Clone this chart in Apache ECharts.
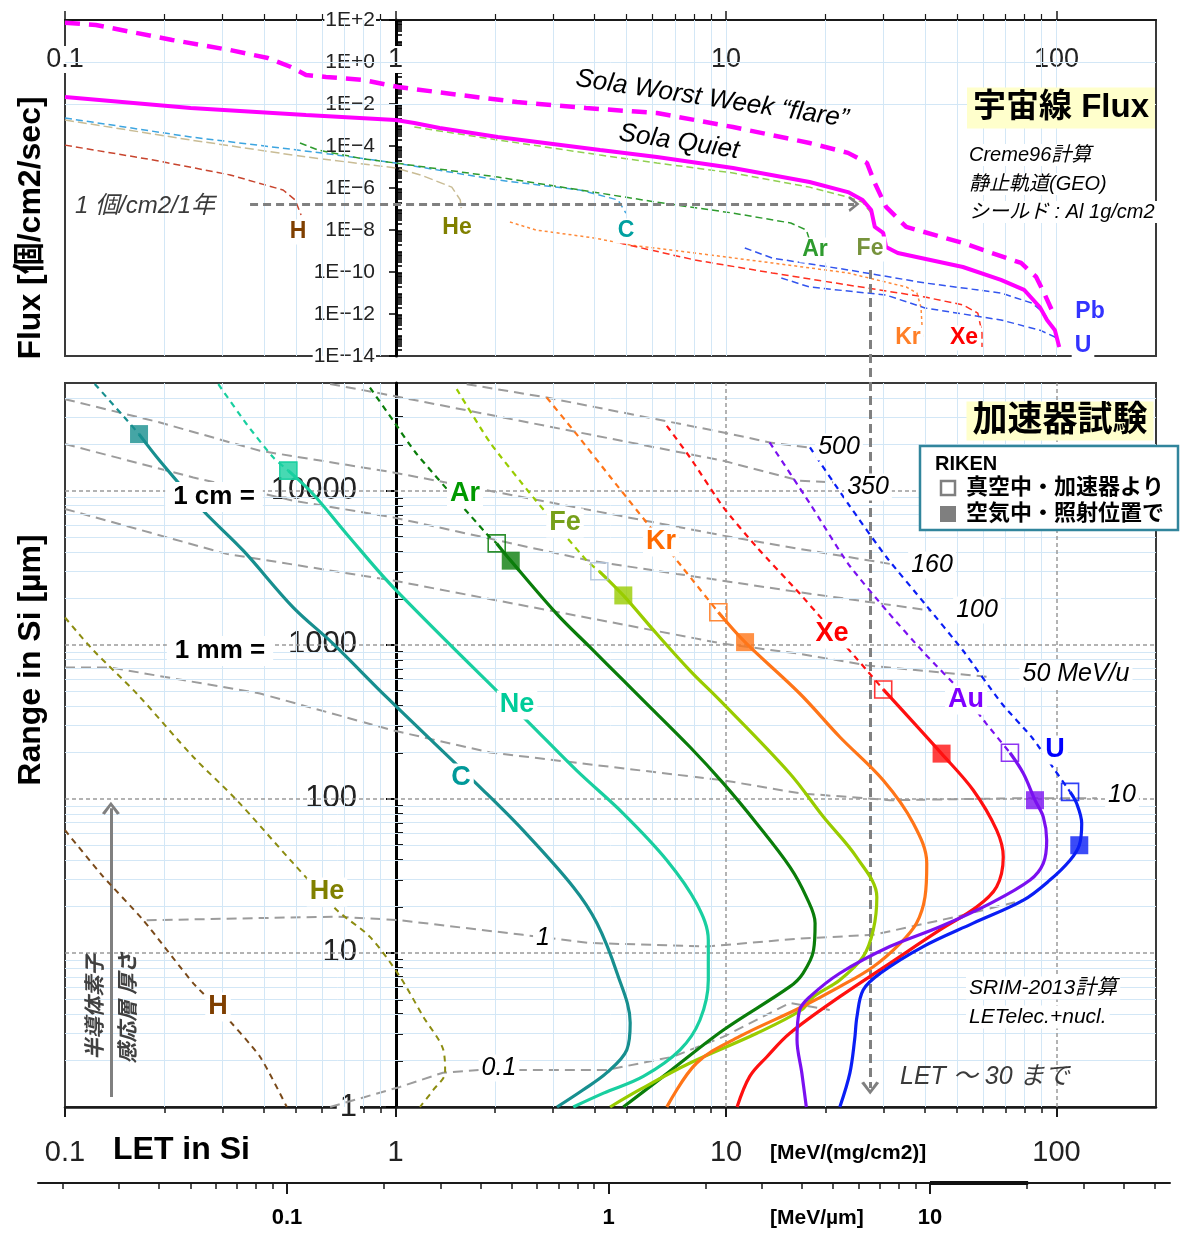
<!DOCTYPE html>
<html><head><meta charset="utf-8">
<script src="https://cdn.jsdelivr.net/npm/echarts@6/dist/echarts.min.js"></script>
<style>html,body{margin:0;padding:0;background:#fff}#c{width:1181px;height:1235px}</style>
</head><body><div id="c"></div>
<script>
// ---------------- axis ranges & tick labels ----------------
const LET_MIN = 0.1, LET_MAX = 200;
const FLUX_MIN = 1e-14, FLUX_MAX = 100;
const RANGE_MIN = 1, RANGE_MAX = 50000;
const UM_MIN = 0.0168, UM_MAX = 55.8;
const letTickLabels = [0.1, 1, 10, 100];
const fluxTickLabels = [1e2, 1, 1e-2, 1e-4, 1e-6, 1e-8, 1e-10, 1e-12, 1e-14];
const rangeTickLabels = [1, 10, 100, 1000, 10000];
const umTickLabels = [0.1, 1, 10];
const umHighlight = [10, 20.2];

// ---------------- top panel: flux vs LET ----------------
const fluxFlare = [[0.1,74],[0.124,57.8],[0.211,11.2],[0.316,3.7],[0.411,1.55],[0.483,0.578],[0.536,0.24],[0.616,0.193],[0.803,0.139],[1.02,0.064],[1.57,0.0268],[2.33,0.0124],[3.77,0.00645],[6.18,0.0037],[10.5,8.0e-4],[17.9,1.39e-4],[23.4,4.7e-5],[26.7,1.55e-5],[28.2,1.7e-6],[30.5,1.26e-7],[35.1,1.4e-8],[52.1,2.4e-9],[78.1,2.7e-10],[86.8,5.8e-11],[91.7,1e-11],[98.9,7.2e-13]];
const fluxQuiet = [[0.1,0.0215],[0.24,0.00645],[0.536,0.003],[1.0,0.00173],[1.14,0.00124],[1.36,7.2e-4],[2.04,2.7e-4],[4.16,6.4e-5],[6.18,3.0e-5],[10.5,9e-6],[17.9,1.93e-6],[23.4,6.4e-7],[25.9,2.7e-7],[27.5,8.9e-8],[28.2,1.39e-8],[29.9,7.2e-9],[30.5,1.55e-9],[33.1,8e-10],[52.1,1.73e-10],[67.9,4.2e-11],[79.8,1.4e-11],[89.1,2.1e-12],[93.6,5.2e-13],[98.9,1.7e-13],[101.9,2.7e-14]];
const fluxH  = [[0.1,1.1e-4],[0.185,2.15e-5],[0.316,4.2e-6],[0.457,8e-7],[0.497,2.7e-7],[0.518,5.2e-8]];
const fluxHe = [[0.1,1.73e-3],[0.24,1.93e-4],[0.536,3e-5],[1.0,9e-6],[1.19,4.2e-6],[1.48,1.1e-6],[1.57,2.7e-7],[1.58,1.1e-7]];
const fluxC  = [[0.1,2.15e-3],[0.24,2.7e-4],[0.6,4.6e-5],[1.0,1.55e-5],[2.04,2.4e-6],[3.61,8e-7],[4.71,2.7e-7],[4.98,6.4e-8]];
const fluxAr = [[0.514,1.39e-4],[0.583,6.4e-5],[0.803,2.4e-5],[1.0,1.55e-5],[2.04,3.3e-6],[4.16,5.7e-7],[6.18,2.1e-7],[10.5,6.4e-8],[15.7,2.15e-8],[17.5,1e-8],[17.9,3.3e-9]];
const fluxFe = [[1.14,8e-4],[2.04,1.93e-4],[4.16,3.7e-5],[6.18,1.55e-5],[10.5,5.2e-6],[17.9,1.1e-6],[23.4,3.7e-7],[25.9,2.1e-7],[27.5,6.4e-8],[28.2,1.26e-8]];
const fluxKr = [[2.22,2.4e-8],[2.66,1e-8],[3.98,4.2e-9],[5.13,1.93e-9],[8.06,8e-10],[13.8,2.7e-10],[23.4,9e-11],[35.1,1.93e-11],[37.8,1e-11],[38.9,2.1e-12],[39.4,5.8e-14]];
const fluxXe = [[4.77,2.4e-9],[8.06,3.7e-10],[13.8,9e-11],[23.4,2.4e-11],[40,6.4e-12],[52.1,2.7e-12],[57.8,1.1e-12],[59.5,1.26e-13],[59.5,2.7e-14]];
const fluxPb = [[11.4,1.4e-9],[13.8,4.6e-10],[23.4,1.26e-10],[40,3e-11],[67.9,1e-11],[84.3,3.3e-12],[91.7,1.1e-12],[96,3e-13]];
const fluxU  = [[14.7,5.2e-11],[17.9,1.93e-11],[30.5,8e-12],[40,1.93e-12],[67.9,5.2e-13],[89.1,1.7e-13],[98.9,8e-14],[101.9,2.7e-14]];
const fluxOnePerYear = 1.73e-7;
const arrowOnePerYearLET = [0.363, 24.4];

// ---------------- bottom panel: range in Si vs LET ----------------
const rangeH  = [[0.1,62.6],[0.1306,31.2],[0.1726,16.3],[0.2445,6.35],[0.294,4.26],[0.389,2.12],[0.469,1.0]];
const rangeHe = [[0.1,1503],[0.122,918],[0.165,481],[0.2445,187],[0.331,98],[0.491,38.1],[0.664,19.0],[0.837,12.7],[1.032,7.0],[1.213,3.86],[1.395,2.35],[1.413,1.66],[1.301,1.29],[1.186,1.0]];
const rangeC_hi  = [[0.123,49300],[0.1484,31400],[0.1675,23300]];
const rangeC_lo  = [[0.1675,23300],[0.1938,15600],[0.262,7410],[0.3464,4080],[0.49,1750],[0.647,1018],[0.94,457],[1.84,114],[2.43,62.6],[3.45,26.8],[4.07,15.6],[4.68,7.41],[5.13,3.52],[5.01,2.35],[4.36,1.67],[3.69,1.29],[3.08,1.0]];
const rangeNe_hi = [[0.291,49150],[0.3547,27000],[0.427,16400],[0.4739,13490]];
const rangeNe_lo = [[0.4739,13490],[0.5628,9520],[0.7115,5240],[0.9847,2360],[2.55,308],[3.53,153],[4.89,80.3],[6.62,40],[8.15,20.9],[8.84,12.1],[8.84,6.67],[8.34,3.67],[7.26,2.35],[5.62,1.58],[4.26,1.23],[3.45,1.0]];
const rangeAr_hi = [[0.837,46700],[0.985,28400],[1.159,17300],[1.888,5240],[2.024,4550]];
const rangeAr_lo = [[2.024,4550],[2.232,3515],[3.074,1588],[3.877,965],[4.89,587],[5.62,436],[7.78,217],[9.82,126],[12.4,69],[15.6,36.2],[17.5,23.1],[18.6,15.6],[18.4,10.4],[17.1,7.38],[15.6,6.04],[9.82,3.16],[6.46,1.58],[4.89,1.0]];
const rangeFe_hi = [[1.532,45600],[1.932,20560],[2.612,9050],[3.79,3515],[4.137,2998]];
const rangeFe_lo = [[4.137,2998],[4.89,2090],[6.17,1178],[7.78,680],[9.59,435],[15.6,146],[19.7,76.4],[24.8,42],[28.6,23.1],[27.9,14.1],[26.0,9.45],[22.1,6.67],[18.4,5.2],[16.9,4.26],[12.4,3.01],[7.78,1.93],[5.5,1.3],[4.46,1.0]];
const rangeKr_hi = [[2.867,40240],[3.53,23270],[4.46,12320],[7.43,3123],[9.48,1625]];
const rangeKr_lo = [[9.48,1625],[11.42,1040],[16.74,481],[22.1,252],[29.9,132],[36.9,69.2],[40.5,38.1],[40.0,23.1],[37.7,15.6],[33.6,11.5],[27.9,8.14],[22.1,6.04],[16.7,4.39],[11.0,2.87],[8.15,1.93],[6.62,1.0]];
const rangeXe_hi = [[6.62,26380],[7.78,16440],[9.82,7800],[12.4,4290],[16.74,2140],[19.7,1437],[26.7,681],[29.9,513]];
const rangeXe_lo = [[29.9,513],[44.9,196.6],[56.0,113.7],[65.9,62.6],[69.0,42],[65.9,26.9],[57.4,19.9],[44.4,14.1],[31.3,8.56],[22.1,5.2],[15.6,3.01],[13.3,2.12],[11.8,1.58],[10.8,1.0]];
const rangeAu_hi = [[13.55,20560],[17.95,8240],[23.4,3366],[30.6,1669],[39.9,878],[52.1,483],[61.2,309],[72.3,199]];
const rangeAu_lo = [[72.3,199],[79.4,146],[86.1,98],[91.2,76.4],[93.4,53.9],[91.2,38.1],[83.2,29.7],[62.9,20.9],[44.4,14.8],[31.3,11.0],[22.1,7.38],[17.95,5.2],[16.7,4.26],[16.4,2.73],[16.96,1.66],[17.5,1.0]];
const rangeU_hi  = [[17.95,19080],[23.4,8240],[30.6,3700],[39.9,1854],[52.1,918],[68.2,417],[84.3,250],[99.0,153],[109.9,111]];
const rangeU_lo  = [[109.9,111],[115.1,93.2],[119.2,69.2],[117.2,50],[109.9,40],[95.5,29.7],[79.4,22],[56,15.6],[39.5,11],[29.3,7.38],[26,5.75],[24.9,3.85],[24.5,2.73],[23.7,1.66],[22.1,1.0]];

// RIKEN beam points: open = in vacuum (accelerator), filled = in air (irradiation position)
const rikenVacuum = { Ne:[0.4739,13490], Ar:[2.024,4550], Fe:[4.137,2998], Kr:[9.48,1625], Xe:[29.9,513], Au:[72.3,199], U:[109.9,111] };
const rikenAir    = { C:[0.1675,23300], Ne:[0.4739,13490], Ar:[2.232,3515], Fe:[4.89,2090], Kr:[11.42,1040], Xe:[44.9,196.6], Au:[86.1,98], U:[117.2,50] };

// iso-energy (MeV/u) lines
const iso500 = [[1.642,49140],[2.867,40240],[9.82,23880],[13.58,20560],[17.95,19000]];
const iso350 = [[0.634,49300],[0.983,41280],[9.82,15630],[16.7,11610],[21.1,11320]];
const iso160 = [[0.1,39270],[0.1938,27710],[0.389,18150],[0.985,13140],[9.82,5110],[16.7,4190],[31.3,3350]];
const iso100 = [[0.1,20080],[0.2445,12190],[0.491,8610],[0.985,6710],[3.877,3515],[7.1,2884],[16.7,2193],[41.4,1668]];
const iso50  = [[0.1,7610],[0.308,3890],[0.985,2610],[9.82,1015],[16.7,874],[26.7,735],[62.9,617]];
const iso10  = [[0.1,713],[0.1368,713],[0.389,483],[0.983,278],[1.932,200],[9.8,132],[16.7,108.7],[31.3,98],[79.3,101],[132.6,101]];
const iso1   = [[0.1766,16.3],[0.664,17.2],[1.032,16.3],[2.43,13.1],[3.877,11.6],[8.74,11.0],[16.7,12.4],[27.9,13.1],[49.9,17.2],[79.4,22.0]];
const iso01  = [[0.634,1.0],[1.032,1.35],[1.392,1.67],[1.803,1.74],[4.36,1.74],[6.91,2.12],[9.8,2.85],[15.6,4.74],[20.6,4.26]];

const letLimit = 27.3;                 // "LET ~ 30" guide
const sensitiveArrow = [0.1377, 1.16, 86.9]; // LET, range from, range to

// ---------------- helpers ----------------
const MULT = [2,3,4,5,6,7,8,9];
function minorVals(decades, lo, hi) {
  const out = [];
  decades.forEach(d => MULT.forEach(m => { const v = +(d*m).toPrecision(6); if (v > lo && v < hi) out.push(v); }));
  return out;
}
const fluxDecades = []; for (let e = -14; e <= 1; e++) fluxDecades.push(+Math.pow(10, e).toPrecision(6));
const letMinor = minorVals([0.1,1,10,100], LET_MIN, LET_MAX);
const fluxMinor = minorVals(fluxDecades, FLUX_MIN, FLUX_MAX);
const rangeMinor = minorVals([1,10,100,1000,10000], RANGE_MIN, RANGE_MAX);
const umMinor = minorVals([0.01,0.1,1,10], UM_MIN, UM_MAX);

const NUMF = '"Liberation Sans","Noto Sans CJK JP",sans-serif';
const fmtLet = v => v < 0.5 ? '0.1' : String(Math.round(v));
const fmtFlux = v => { const e = Math.round(Math.log10(v)); return '1E' + (e >= 0 ? '+' : '\u2212') + Math.abs(e); };
const fmtRange = v => String(Math.round(v));

const LIGHT = '#D3E7F6';
function gridLines(xi, yi, vals, dim, color, width, dash) {
  return { type:'line', xAxisIndex:xi, yAxisIndex:yi, data:[], silent:true, z:1,
    markLine:{ silent:true, animation:false, symbol:['none','none'], label:{show:false}, emphasis:{disabled:true},
      lineStyle:{color, width, type: dash || 'solid'},
      data: vals.map(v => dim === 'x' ? {xAxis:v} : {yAxis:v}) } };
}
function lineS(data, xi, yi, color, width, dash, z, smooth) {
  return { type:'line', data, xAxisIndex:xi, yAxisIndex:yi, showSymbol:false, symbol:'none', silent:true,
    smooth: smooth || 0, lineStyle:{color, width, type: dash || 'solid', cap:'butt'}, z: z || 5, animation:false };
}
const CHEVRON = 'path://M5,0 L10,8 L8.4,9 L5,3.2 L1.6,9 L0,8 Z';

// ---------------- colours ----------------
const COL = { H:'#7A4A1A', He:'#8C8C10', C:'#178F8F', Ne:'#19CFA0', Ar:'#0A7D0A', Fe:'#99CC00', Kr:'#FF7518', Xe:'#FF1010', Au:'#7A10F0', U:'#0A1EF5' };
const MAG = '#FF00FF';

// ---------------- series ----------------
const series = [];
// top grid gridlines
series.push(gridLines(0,0, letMinor.concat([10,100]), 'x', LIGHT, 1));
series.push(gridLines(0,0, [1,1e-2,1e-4,1e-6,1e-8,1e-10,1e-12], 'y', LIGHT, 1));
// bottom grid gridlines
series.push(gridLines(2,2, letMinor, 'x', LIGHT, 1));
series.push(gridLines(2,2, rangeMinor, 'y', LIGHT, 1));
series.push(gridLines(2,2, [10,100], 'x', '#9A9A9A', 1.5, [4,3]));
series.push(gridLines(2,2, [10,100,1000,10000], 'y', '#9A9A9A', 1.5, [4,3]));

// flux curves
const thinDash = [7,4];
series.push(lineS(fluxH, 0,0, '#C8452E', 1.5, thinDash, 4));
series.push(lineS(fluxHe,0,0, '#C9BC95', 1.5, [9,4], 4));
series.push(lineS(fluxC, 0,0, '#3DA5E0', 1.5, thinDash, 4));
series.push(lineS(fluxAr,0,0, '#2E9B2E', 1.5, thinDash, 4));
series.push(lineS(fluxFe,0,0, '#92CF52', 1.5, thinDash, 4));
series.push(lineS(fluxKr,0,0, '#FF8A3A', 1.5, [3,3], 4));
series.push(lineS(fluxXe,0,0, '#FF3020', 1.5, thinDash, 4));
series.push(lineS(fluxPb,0,0, '#3355EE', 1.5, thinDash, 4));
series.push(lineS(fluxU, 0,0, '#3355EE', 1.5, thinDash, 4));
series.push(lineS(fluxFlare,0,0, MAG, 4.5, [15,9], 6));
series.push(lineS(fluxQuiet,0,0, MAG, 4, 'solid', 6));
// 1 per cm2 per year arrow
series.push({ type:'line', xAxisIndex:0, yAxisIndex:0, data:[], silent:true, z:7,
  markLine:{ silent:true, animation:false, symbol:['none', CHEVRON], symbolSize:[16,11], label:{show:false}, emphasis:{disabled:true},
    lineStyle:{color:'#808080', width:3, type:[8,5]},
    data:[[{coord:[arrowOnePerYearLET[0], fluxOnePerYear]}, {coord:[arrowOnePerYearLET[1], fluxOnePerYear]}]] } });

// iso-energy lines (bottom)
const ISO = '#9C9C9C';
[iso500, iso350, iso160, iso100, iso50, iso10, iso1, iso01].forEach(d => series.push(lineS(d, 2,2, ISO, 2, [10,6], 3)));

// range curves
series.push(lineS(rangeH, 2,2, COL.H, 2, [6,5], 5, 0.2));
series.push(lineS(rangeHe,2,2, COL.He, 2, [6,5], 5, 0.3));
[['C',rangeC_hi,rangeC_lo],['Ne',rangeNe_hi,rangeNe_lo],['Ar',rangeAr_hi,rangeAr_lo],['Fe',rangeFe_hi,rangeFe_lo],
 ['Kr',rangeKr_hi,rangeKr_lo],['Xe',rangeXe_hi,rangeXe_lo],['Au',rangeAu_hi,rangeAu_lo],['U',rangeU_hi,rangeU_lo]].forEach(([k,hi,lo]) => {
  series.push(lineS(hi, 2,2, COL[k], 2.2, [6,5], 5, 0.2));
  series.push(lineS(lo, 2,2, COL[k], 3.2, 'solid', 6, 0.35));
});
// RIKEN markers
Object.keys(rikenVacuum).forEach(k => series.push({ type:'scatter', xAxisIndex:2, yAxisIndex:2, silent:true, z:8, animation:false,
  data:[rikenVacuum[k]], symbol:'rect', symbolSize:17,
  itemStyle:{color:'rgba(255,255,255,0)', borderColor: k === 'Fe' ? '#AFC3DC' : COL[k], borderWidth:1.6, opacity:0.85} }));
Object.keys(rikenAir).forEach(k => series.push({ type:'scatter', xAxisIndex:2, yAxisIndex:2, silent:true, z:9, animation:false,
  data:[rikenAir[k]], symbol:'rect', symbolSize:18, itemStyle:{color:COL[k]} }));
// sensitive-layer arrow
series.push({ type:'line', xAxisIndex:2, yAxisIndex:2, data:[], silent:true, z:7,
  markLine:{ silent:true, animation:false, symbol:['none', CHEVRON], symbolSize:[18,13], label:{show:false}, emphasis:{disabled:true},
    lineStyle:{color:'#808080', width:3, type:'solid'},
    data:[[{coord:[sensitiveArrow[0], sensitiveArrow[1]]}, {coord:[sensitiveArrow[0], sensitiveArrow[2]]}]] } });
// LET ~ 30 vertical guide (spans both panels)
series.push({ type:'line', xAxisIndex:6, yAxisIndex:5, data:[], silent:true, z:7,
  markLine:{ silent:true, animation:false, symbol:['none', CHEVRON], symbolSize:[18,13], label:{show:false}, emphasis:{disabled:true},
    lineStyle:{color:'#808080', width:3, type:[9,5]},
    data:[[{coord:[letLimit, 1]}, {coord:[letLimit, 0]}]] } });
// highlighted segment on the MeV/um axis
series.push({ type:'line', xAxisIndex:4, yAxisIndex:4, data:umHighlight.map(v => [v, 0]), showSymbol:false, symbol:'none',
  silent:true, clip:false, z:8, lineStyle:{color:'#111', width:4} });

// ---------------- text annotations ----------------
function T(text, x, y, size, color, o) {
  o = o || {};
  return { type:'text', x, y, rotation:o.rot || 0, z:100, silent:true,
    style:{ text, fill:color, font:(o.italic ? 'italic ' : '') + (o.bold ? 'bold ' : '') + size + 'px ' + NUMF,
      align:o.align || 'center', verticalAlign:'middle', backgroundColor:o.bg, padding:o.pad || (o.bg ? [1,3] : 0) } };
}
const W = '#fff';
const graphic = [
  T('Flux [個/cm2/sec]', 31, 228, 32, '#000', {bold:true, rot:Math.PI/2}),
  T('Range in Si [µm]', 31, 660, 32, '#000', {bold:true, rot:Math.PI/2}),
  T('Sola Worst Week “flare”', 712, 99, 26, '#000', {italic:true, rot:-0.15}),
  T('Sola Quiet', 679, 142, 26, '#000', {italic:true, rot:-0.15}),
  T('宇宙線 Flux', 1061, 108, 33, '#000', {bold:true, bg:'#FFFFCC', pad:[4,6]}),
  T('Creme96計算', 966, 155, 20, '#000', {italic:true, align:'left', bg:W}),
  T('静止軌道(GEO)', 966, 184, 20, '#000', {italic:true, align:'left', bg:W}),
  T('シールド : Al 1g/cm2', 966, 212, 20, '#000', {italic:true, align:'left', bg:W}),
  T('1 個/cm2/1年', 75, 206, 24, '#3a3a3a', {italic:true, align:'left'}),
  T('H', 298, 232, 23, '#7F3F00', {bold:true, bg:W}),
  T('He', 457, 228, 23, '#808000', {bold:true, bg:W}),
  T('C', 626, 231, 23, '#00A0A0', {bold:true, bg:W}),
  T('Ar', 815, 250, 23, '#2E9B2E', {bold:true, bg:W}),
  T('Fe', 870, 249, 23, '#77933C', {bold:true, bg:W}),
  T('Kr', 908, 338, 23, '#FF7F27', {bold:true, bg:W}),
  T('Xe', 964, 338, 23, '#FF0000', {bold:true, bg:W}),
  T('Pb', 1090, 312, 23, '#3333FF', {bold:true, bg:W}),
  T('U', 1083, 346, 23, '#3333FF', {bold:true, bg:W}),
  // bottom
  T('加速器試験', 1060, 421, 35, '#000', {bold:true, bg:'#FFFFCC', pad:[2,6]}),
  { type:'rect', z:99, silent:true, shape:{x:920, y:446, width:258, height:84}, style:{fill:'#fff', stroke:'#31859C', lineWidth:2.5} },
  T('RIKEN', 935, 464, 20, '#000', {bold:true, align:'left'}),
  { type:'rect', z:100, silent:true, shape:{x:941, y:481, width:14, height:14}, style:{fill:'#fff', stroke:'#7F7F7F', lineWidth:2.5} },
  T('真空中・加速器より', 966, 488, 22, '#000', {bold:true, align:'left'}),
  { type:'rect', z:100, silent:true, shape:{x:940, y:506, width:16, height:16}, style:{fill:'#7F7F7F'} },
  T('空気中・照射位置で', 966, 514, 22, '#000', {bold:true, align:'left'}),
  T('500', 839, 447, 25, '#000', {italic:true, bg:W}),
  T('350', 868, 487, 25, '#000', {italic:true, bg:W}),
  T('160', 932, 565, 25, '#000', {italic:true, bg:W}),
  T('100', 977, 610, 25, '#000', {italic:true, bg:W}),
  T('50 MeV/u', 1076, 674, 25, '#000', {italic:true, bg:W}),
  T('10', 1122, 795, 25, '#000', {italic:true, bg:W}),
  T('1', 543, 938, 25, '#000', {italic:true, bg:W}),
  T('0.1', 499, 1068, 25, '#000', {italic:true, bg:W}),
  T('Ar', 465, 494, 27, '#009900', {bold:true, bg:W}),
  T('Fe', 565, 523, 27, '#76A01A', {bold:true, bg:W}),
  T('Kr', 661, 542, 27, '#FF6A00', {bold:true, bg:W}),
  T('Xe', 832, 634, 27, '#FF0000', {bold:true, bg:W}),
  T('Au', 966, 700, 27, '#7F00FF', {bold:true, bg:W}),
  T('U', 1055, 750, 27, '#0000FF', {bold:true, bg:W}),
  T('Ne', 517, 705, 27, '#00CC99', {bold:true, bg:W}),
  T('C', 461, 778, 27, '#009999', {bold:true, bg:W}),
  T('He', 327, 892, 27, '#808000', {bold:true, bg:W}),
  T('H', 218, 1007, 27, '#7F3F00', {bold:true, bg:W}),
  T('1 cm =', 214, 497, 26, '#000', {bold:true, bg:W, pad:[2,8]}),
  T('1 mm =', 220, 651, 26, '#000', {bold:true, bg:W, pad:[2,8]}),
  T('SRIM-2013計算', 966, 988, 21, '#000', {italic:true, align:'left', bg:W}),
  T('LETelec.+nucl.', 966, 1017, 21, '#000', {italic:true, align:'left', bg:W}),
  T('LET ～ 30 まで', 900, 1077, 25, '#3a3a3a', {italic:true, align:'left'}),
  T('半導体素子', 96, 1007, 21, '#404040', {bold:true, italic:true, rot:Math.PI/2}),
  T('感応層 厚さ', 129, 1008, 21, '#404040', {bold:true, italic:true, rot:Math.PI/2}),
  T('LET in Si', 113, 1150, 32, '#000', {bold:true, align:'left'}),
  T('[MeV/(mg/cm2)]', 770, 1153, 21, '#000', {bold:true, align:'left'}),
  T('[MeV/µm]', 770, 1218, 21, '#000', {bold:true, align:'left'})
];

// ---------------- axes ----------------
const AX = '#1a1a1a';
const xAxis = [
  { type:'log', gridIndex:0, min:LET_MIN, max:LET_MAX, position:'top',
    axisLine:{show:true, onZero:false, lineStyle:{color:AX, width:2}},
    axisTick:{customValues:letTickLabels, length:9, lineStyle:{color:AX, width:1.5}},
    axisLabel:{customValues:letTickLabels, inside:true, margin:26, fontSize:27, color:'#222', fontFamily:NUMF, formatter:fmtLet, backgroundColor:'#fff', padding:[0,2]},
    splitLine:{show:false} },
  { type:'log', gridIndex:0, min:LET_MIN, max:LET_MAX, position:'top',
    axisLine:{show:false}, axisTick:{customValues:letMinor, length:6, lineStyle:{color:AX, width:1.2}},
    axisLabel:{show:false}, splitLine:{show:false} },
  { type:'log', gridIndex:1, min:LET_MIN, max:LET_MAX, position:'bottom',
    axisLine:{show:true, onZero:false, lineStyle:{color:AX, width:2.5}},
    axisTick:{customValues:letTickLabels, length:10, lineStyle:{color:AX, width:2}},
    axisLabel:{customValues:letTickLabels, margin:31, fontSize:29, color:'#222', fontFamily:NUMF, formatter:fmtLet},
    splitLine:{show:false} },
  { type:'log', gridIndex:1, min:LET_MIN, max:LET_MAX, position:'bottom',
    axisLine:{show:false}, axisTick:{customValues:letMinor, length:6, lineStyle:{color:AX, width:1.5}},
    axisLabel:{show:false}, splitLine:{show:false} },
  { type:'log', gridIndex:2, min:UM_MIN, max:UM_MAX, position:'bottom',
    axisLine:{show:true, onZero:false, lineStyle:{color:AX, width:2}},
    axisTick:{customValues:umTickLabels, length:11, lineStyle:{color:AX, width:2}},
    axisLabel:{customValues:umTickLabels, margin:24, fontSize:22, fontWeight:'bold', color:'#000', fontFamily:NUMF, formatter:fmtLet},
    splitLine:{show:false} },
  { type:'log', gridIndex:2, min:UM_MIN, max:UM_MAX, position:'bottom',
    axisLine:{show:false}, axisTick:{customValues:umMinor, length:6, lineStyle:{color:AX, width:1.5}},
    axisLabel:{show:false}, splitLine:{show:false} },
  { type:'log', gridIndex:3, min:LET_MIN, max:LET_MAX, show:false }
];
const yAxis = [
  { type:'log', gridIndex:0, min:FLUX_MIN, max:FLUX_MAX, position:'left', offset:-331,
    axisLine:{show:true, onZero:false, lineStyle:{color:'#000', width:3}},
    axisTick:{customValues:fluxTickLabels, length:7, lineStyle:{color:'#000', width:1.5}},
    axisLabel:{customValues:fluxTickLabels, margin:20, fontSize:21, color:'#222', fontFamily:NUMF, formatter:fmtFlux, backgroundColor:'#fff', padding:[0,1]},
    splitLine:{show:false} },
  { type:'log', gridIndex:0, min:FLUX_MIN, max:FLUX_MAX, position:'left', offset:-331,
    axisLine:{show:false}, axisTick:{customValues:fluxMinor, inside:true, length:6, lineStyle:{color:'#000', width:1.6}},
    axisLabel:{show:false}, splitLine:{show:false} },
  { type:'log', gridIndex:1, min:RANGE_MIN, max:RANGE_MAX, position:'left', offset:-331,
    axisLine:{show:true, onZero:false, lineStyle:{color:'#000', width:3}},
    axisTick:{customValues:rangeTickLabels, length:10, lineStyle:{color:'#000', width:2}},
    axisLabel:{customValues:rangeTickLabels, margin:36, fontSize:31, color:'#222', fontFamily:NUMF, formatter:fmtRange, backgroundColor:'#fff', padding:[0,3]},
    splitLine:{show:false} },
  { type:'log', gridIndex:1, min:RANGE_MIN, max:RANGE_MAX, position:'left', offset:-331,
    axisLine:{show:false}, axisTick:{customValues:rangeMinor, inside:true, length:7, lineStyle:{color:'#000', width:1.8}},
    axisLabel:{show:false}, splitLine:{show:false} },
  { type:'value', gridIndex:2, min:0, max:1, show:false },
  { type:'value', gridIndex:3, min:0, max:1, show:false }
];

const option = {
  animation:false,
  backgroundColor:'#fff',
  grid:[
    { left:65, right:25, top:20, height:336, show:true, borderColor:'#3a3a3a', borderWidth:2, backgroundColor:'transparent' },
    { left:65, right:25, top:383, height:724, show:true, borderColor:'#3a3a3a', borderWidth:2, backgroundColor:'transparent' },
    { left:38, right:11, top:1182, height:1 },
    { left:65, right:25, top:270, bottom:147 }
  ],
  xAxis, yAxis, series, graphic
};
const chart = echarts.init(document.getElementById('c'));
chart.setOption(option);
</script></body></html>
